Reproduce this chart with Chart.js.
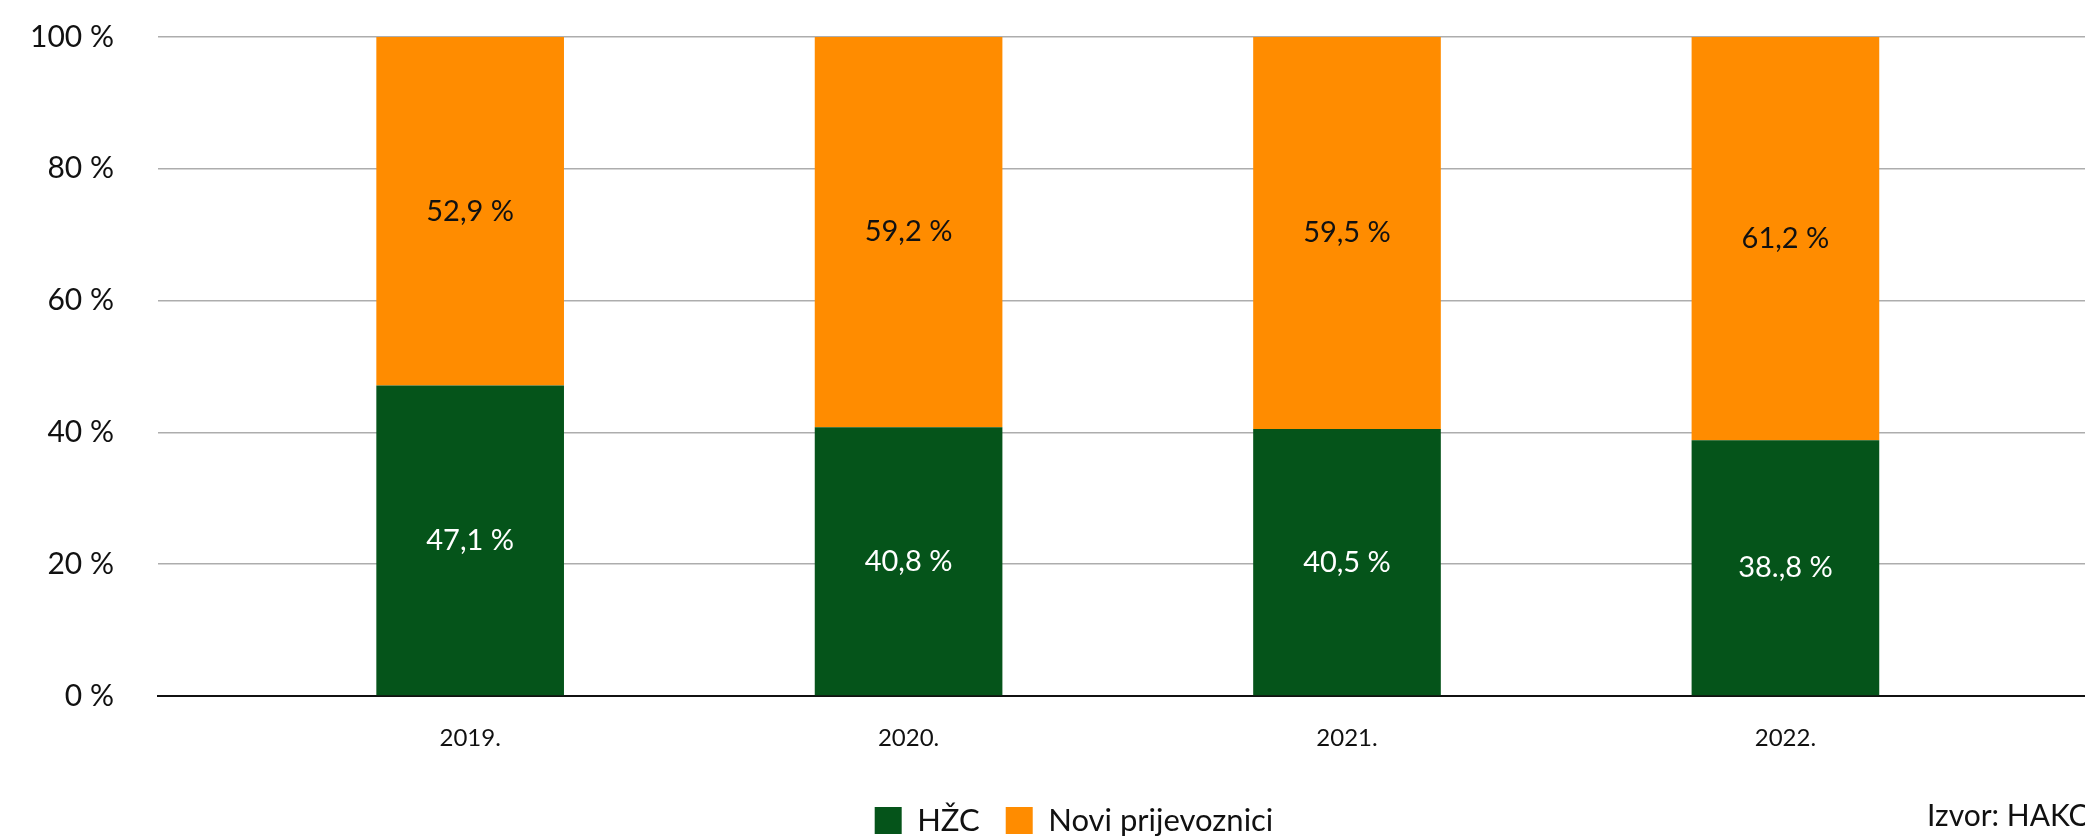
<!DOCTYPE html>
<html>
<head>
<meta charset="utf-8">
<script src="https://cdn.jsdelivr.net/npm/chart.js@4/dist/chart.umd.min.js"></script>
<style>
  html, body { margin: 0; padding: 0; background: #fff; overflow: hidden; }
  #wrap { width: 2148px; height: 846px; position: relative; }
</style>
</head>
<body>
<div id="wrap"><canvas id="myChart"></canvas></div>
<script>
var years = ['2019.', '2020.', '2021.', '2022.'];
var hzcValues = [47.1, 40.8, 40.5, 38.8];
var noviValues = [52.9, 59.2, 59.5, 61.2];
var hzcLabels = ['47,1 %', '40,8 %', '40,5 %', '38.,8 %'];
var noviLabels = ['52,9 %', '59,2 %', '59,5 %', '61,2 %'];
var yTicks = [0, 20, 40, 60, 80, 100];
var sourceText = 'Izvor: HAKC';

var green = '#05541a';
var orange = '#ff8c00';
var fontFamily = 'Lato, "Open Sans", sans-serif';

function toPoints(values) {
    return values.map(function (v, i) { return { x: i, y: v }; });
}

// labels in the middle of each bar segment + source note
var barLabels = {
    id: 'barLabels',
    afterDatasetsDraw: function (chart) {
        var ctx = chart.ctx;
        var texts = [hzcLabels, noviLabels];
        var colors = ['#ffffff', '#111111'];
        ctx.save();
        ctx.font = '29px ' + fontFamily;
        ctx.textAlign = 'center';
        ctx.textBaseline = 'middle';
        chart.data.datasets.forEach(function (ds, d) {
            var meta = chart.getDatasetMeta(d);
            meta.data.forEach(function (bar, i) {
                ctx.fillStyle = colors[d];
                ctx.fillText(texts[d][i], bar.x, (bar.y + bar.base) / 2);
            });
        });
        ctx.fillStyle = '#111111';
        ctx.font = '30px ' + fontFamily;
        ctx.textAlign = 'left';
        ctx.fillText(sourceText, 1927, 816);
        ctx.restore();
    }
};

var ctx = document.getElementById('myChart').getContext('2d');
var myChart = new Chart(ctx, {
    type: 'bar',
    data: {
        datasets: [{
            label: 'HŽC',
            data: toPoints(hzcValues),
            backgroundColor: green,
            borderWidth: 0
        }, {
            label: 'Novi prijevoznici',
            data: toPoints(noviValues),
            backgroundColor: orange,
            borderWidth: 0
        }]
    },
    options: {
        responsive: true,
        maintainAspectRatio: false,
        animation: false,
        categoryPercentage: 1,
        barPercentage: 0.428,
        layout: { padding: { top: 37, left: 0, right: 0, bottom: 0 } },
        plugins: {
            tooltip: { enabled: false },
            legend: {
                position: 'bottom',
                labels: {
                    boxWidth: 27,
                    boxHeight: 27,
                    padding: 26,
                    color: '#111111',
                    font: { family: fontFamily, size: 31 }
                }
            }
        },
        scales: {
            x: {
                type: 'linear',
                stacked: true,
                offset: false,
                bounds: 'data',
                min: -0.712,
                max: 3.827,
                grid: { display: false, drawTicks: false, offset: false },
                border: { display: true, color: '#111111', width: 2 },
                afterBuildTicks: function (scale) {
                    scale.ticks = years.map(function (y, i) { return { value: i }; });
                },
                afterFit: function (scale) { scale.height = 83; },
                ticks: {
                    autoSkip: false,
                    maxRotation: 0,
                    padding: 28,
                    color: '#111111',
                    font: { family: fontFamily, size: 24 },
                    callback: function (v) { return years[v]; }
                }
            },
            y: {
                stacked: true,
                min: 0,
                max: 100,
                afterBuildTicks: function (scale) {
                    scale.ticks = yTicks.map(function (v) { return { value: v }; });
                },
                afterFit: function (scale) {
                    scale.width = 158;
                    scale.paddingTop = 0;
                    scale.paddingBottom = 0;
                },
                grid: { color: '#adadad', lineWidth: 1.5, drawTicks: false },
                border: { display: false },
                ticks: {
                    padding: 44,
                    color: '#111111',
                    font: { family: fontFamily, size: 30 },
                    callback: function (v) { return v + ' %'; }
                }
            }
        }
    },
    plugins: [barLabels]
});
</script>
</body>
</html>
